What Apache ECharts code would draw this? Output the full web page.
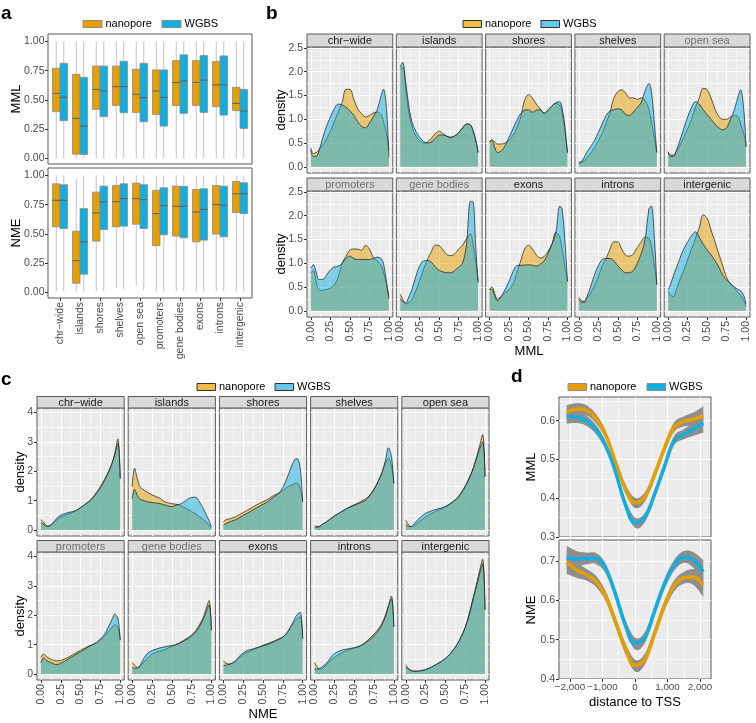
<!DOCTYPE html>
<html><head><meta charset="utf-8">
<script src="https://cdn.jsdelivr.net/npm/echarts@6/dist/echarts.min.js"></script>
<style>html,body{margin:0;padding:0;background:#fff}#c{width:756px;height:723px}</style>
</head><body><div id="c"></div>
<script>
const FONT = '"Liberation Sans", Arial, Helvetica, sans-serif';
const ORANGE = '#E69F00', BLUE = '#12AEDF';

// ---------- panel a : box plots ----------
const boxCategories = ['chr\u2212wide','islands','shores','shelves','open sea','promoters','gene bodies','exons','introns','intergenic'];
// [min, Q1, median, Q3, max]
const mmlBoxNano = [[0,0.40,0.557,0.771,1],[0,0.037,0.343,0.72,1],[0,0.42,0.59,0.79,1],[0,0.454,0.614,0.79,1],[0,0.394,0.549,0.763,1],[0,0.377,0.577,0.757,1],[0,0.454,0.649,0.837,1],[0,0.454,0.651,0.837,1],[0,0.443,0.629,0.829,1],[0,0.409,0.471,0.609,1]];
const mmlBoxWgbs = [[0,0.323,0.523,0.814,1],[0,0.034,0.277,0.694,1],[0,0.357,0.577,0.79,1],[0,0.391,0.614,0.831,1],[0,0.314,0.52,0.814,1],[0,0.277,0.523,0.757,1],[0,0.386,0.663,0.886,1],[0,0.394,0.67,0.88,1],[0,0.371,0.629,0.877,1],[0,0.257,0.406,0.591,1]];
const nmeBoxNano = [[0.01,0.561,0.788,0.929,1],[0.01,0.079,0.272,0.524,0.97],[0.01,0.439,0.68,0.858,1],[0.04,0.561,0.776,0.915,1],[0.06,0.584,0.802,0.935,1],[0.01,0.40,0.674,0.873,1],[0.01,0.482,0.737,0.909,1],[0.01,0.433,0.688,0.881,1],[0.01,0.499,0.751,0.915,1],[0.01,0.683,0.844,0.949,1]];
const nmeBoxWgbs = [[0.01,0.547,0.788,0.921,1],[0.01,0.156,0.433,0.717,1],[0.01,0.538,0.776,0.909,1],[0.03,0.567,0.802,0.929,1],[0.02,0.547,0.793,0.921,1],[0.01,0.493,0.742,0.895,1],[0.01,0.467,0.737,0.907,1],[0.01,0.448,0.711,0.887,1],[0.01,0.476,0.745,0.909,1],[0.01,0.674,0.844,0.938,1]];

// ---------- panels b, c : densities ----------
const facetNames = ['chr\u2212wide','islands','shores','shelves','open sea','promoters','gene bodies','exons','introns','intergenic'];
const densityX = [0,0.03,0.07,0.1,0.15,0.2,0.25,0.3,0.35,0.4,0.45,0.5,0.55,0.6,0.65,0.7,0.75,0.8,0.85,0.9,0.93,0.97,1];
const mmlDensNano = [
 [0.40,0.28,0.30,0.35,0.45,0.58,0.75,0.95,1.15,1.35,1.63,1.63,1.42,1.22,1.12,1.05,1.08,1.13,1.15,1.10,0.95,0.70,0.35],
 [2.05,2.10,1.65,1.25,0.85,0.65,0.55,0.50,0.52,0.60,0.70,0.75,0.70,0.64,0.62,0.65,0.72,0.82,0.90,0.88,0.78,0.55,0.30],
 [0.53,0.57,0.52,0.48,0.48,0.50,0.56,0.66,0.82,1.05,1.40,1.52,1.45,1.32,1.22,1.13,1.18,1.28,1.33,1.30,1.15,0.70,0.30],
 [0.10,0.10,0.13,0.18,0.28,0.40,0.55,0.70,0.92,1.15,1.45,1.58,1.62,1.55,1.45,1.45,1.42,1.45,1.40,1.20,0.95,0.60,0.30],
 [0.32,0.25,0.25,0.30,0.45,0.62,0.80,1.00,1.25,1.45,1.65,1.62,1.45,1.22,1.06,1.00,1.00,1.05,1.08,1.05,0.90,0.70,0.42],
 [0.80,0.85,0.60,0.45,0.43,0.45,0.48,0.55,0.70,1.00,1.15,1.28,1.30,1.30,1.27,1.38,1.30,1.12,1.05,0.95,0.82,0.55,0.30],
 [0.35,0.25,0.15,0.16,0.24,0.42,0.64,0.88,1.08,1.25,1.38,1.37,1.28,1.18,1.16,1.20,1.30,1.38,1.52,1.62,1.45,1.00,0.60],
 [0.45,0.50,0.35,0.25,0.30,0.38,0.45,0.55,0.80,1.05,1.30,1.38,1.30,1.18,1.11,1.14,1.25,1.40,1.65,1.55,1.30,0.90,0.62],
 [0.29,0.22,0.20,0.26,0.37,0.52,0.72,0.95,1.10,1.30,1.45,1.45,1.30,1.17,1.15,1.20,1.33,1.45,1.55,1.52,1.35,0.95,0.55],
 [0.42,0.33,0.30,0.42,0.65,0.85,1.07,1.30,1.52,1.75,2.02,1.95,1.70,1.46,1.20,0.95,0.70,0.57,0.48,0.38,0.32,0.22,0.10]
];
const mmlDensWgbs = [
 [0.35,0.22,0.22,0.32,0.60,0.85,1.05,1.22,1.32,1.30,1.25,1.18,1.08,0.95,0.85,0.82,0.92,1.05,1.20,1.50,1.63,1.20,0.20],
 [2.10,2.20,1.80,1.40,0.95,0.75,0.62,0.53,0.50,0.52,0.60,0.67,0.67,0.64,0.62,0.65,0.72,0.82,0.90,0.88,0.78,0.55,0.30],
 [0.53,0.55,0.40,0.30,0.33,0.45,0.62,0.80,0.98,1.12,1.19,1.20,1.15,1.19,1.20,1.12,1.20,1.28,1.35,1.37,1.25,0.80,0.30],
 [0.07,0.10,0.20,0.30,0.42,0.55,0.72,0.90,1.08,1.18,1.20,1.22,1.20,1.10,1.08,1.15,1.25,1.35,1.60,1.75,1.60,0.90,0.30],
 [0.30,0.22,0.22,0.32,0.55,0.80,1.05,1.25,1.37,1.32,1.20,1.10,1.00,0.90,0.82,0.78,0.82,1.00,1.20,1.50,1.62,1.20,0.42],
 [0.90,0.97,0.80,0.66,0.66,0.75,0.86,0.92,0.94,1.00,1.10,1.15,1.10,1.08,1.08,1.08,1.08,1.10,1.13,1.10,1.00,0.60,0.25],
 [0.26,0.20,0.17,0.25,0.45,0.72,0.95,1.05,1.06,1.02,0.92,0.85,0.82,0.80,0.80,0.85,0.92,1.00,1.40,2.30,2.30,1.30,0.60],
 [0.45,0.45,0.30,0.21,0.30,0.45,0.62,0.82,0.95,0.96,0.96,0.97,0.96,0.94,0.98,1.05,1.20,1.40,1.63,2.20,2.15,1.40,0.62],
 [0.25,0.18,0.18,0.28,0.50,0.75,0.95,1.08,1.10,1.10,1.05,0.95,0.86,0.80,0.80,0.85,1.00,1.20,1.50,2.15,2.20,1.50,0.55],
 [0.45,0.55,0.75,0.88,1.10,1.30,1.45,1.58,1.66,1.55,1.40,1.28,1.18,1.06,0.92,0.75,0.65,0.57,0.50,0.45,0.42,0.32,0.14]
];
const nmeDensNano = [
 [0.36,0.28,0.15,0.14,0.22,0.35,0.45,0.50,0.55,0.60,0.67,0.76,0.86,0.97,1.10,1.28,1.48,1.72,1.98,2.30,2.60,3.10,1.75],
 [1.47,2.10,1.70,1.47,1.36,1.27,1.20,1.14,1.08,0.98,0.93,0.90,0.88,0.84,0.78,0.70,0.63,0.55,0.45,0.35,0.28,0.17,0.06],
 [0.28,0.35,0.38,0.40,0.45,0.52,0.60,0.67,0.75,0.83,0.90,0.97,1.03,1.12,1.20,1.26,1.35,1.45,1.52,1.58,1.60,1.40,0.96],
 [0.15,0.12,0.14,0.20,0.28,0.38,0.48,0.56,0.63,0.70,0.80,0.86,0.92,1.00,1.07,1.20,1.40,1.65,1.95,2.30,2.45,2.20,1.58],
 [0.34,0.20,0.12,0.15,0.25,0.35,0.45,0.53,0.60,0.67,0.72,0.80,0.88,0.98,1.10,1.28,1.50,1.78,2.10,2.55,2.85,3.25,1.81],
 [0.57,0.68,0.60,0.54,0.48,0.45,0.47,0.52,0.58,0.66,0.74,0.81,0.88,0.95,1.00,1.07,1.16,1.27,1.45,1.60,1.68,1.60,1.17],
 [0.40,0.30,0.23,0.27,0.42,0.56,0.67,0.74,0.78,0.82,0.88,0.94,1.00,1.07,1.15,1.23,1.33,1.47,1.68,1.95,2.20,2.50,1.49],
 [0.46,0.38,0.34,0.36,0.42,0.55,0.66,0.74,0.80,0.86,0.92,0.98,1.03,1.08,1.13,1.20,1.26,1.38,1.60,1.78,1.88,1.95,1.20],
 [0.40,0.25,0.17,0.20,0.32,0.46,0.57,0.66,0.73,0.80,0.84,0.88,0.93,1.00,1.10,1.22,1.36,1.52,1.72,2.05,2.30,2.65,1.60],
 [0.32,0.20,0.12,0.10,0.10,0.12,0.15,0.20,0.27,0.34,0.42,0.52,0.65,0.82,1.02,1.28,1.60,2.05,2.60,3.15,3.50,3.90,2.18]
];
const nmeDensWgbs = [
 [0.25,0.20,0.13,0.14,0.25,0.40,0.51,0.56,0.60,0.63,0.68,0.77,0.86,0.96,1.08,1.25,1.44,1.68,1.95,2.30,2.55,2.95,1.75],
 [1.07,1.38,1.15,1.05,1.00,0.96,0.94,0.92,0.90,0.87,0.82,0.80,0.85,0.88,0.95,1.05,1.11,1.12,0.95,0.72,0.55,0.32,0.11],
 [0.17,0.22,0.27,0.30,0.35,0.42,0.50,0.57,0.65,0.73,0.80,0.88,0.95,1.05,1.15,1.25,1.45,1.75,2.10,2.40,2.43,2.10,0.96],
 [0.10,0.10,0.13,0.20,0.28,0.38,0.48,0.56,0.65,0.74,0.78,0.84,0.90,0.95,1.02,1.18,1.38,1.65,1.95,2.45,2.80,2.50,1.58],
 [0.17,0.14,0.12,0.20,0.35,0.47,0.57,0.63,0.68,0.72,0.75,0.80,0.87,0.97,1.08,1.25,1.48,1.75,2.08,2.50,2.75,3.00,1.81],
 [0.38,0.55,0.47,0.42,0.36,0.32,0.37,0.44,0.52,0.60,0.69,0.76,0.84,0.93,1.00,1.07,1.20,1.35,1.60,1.88,2.04,1.90,1.15],
 [0.23,0.20,0.20,0.30,0.55,0.72,0.80,0.85,0.89,0.92,0.95,0.97,1.00,1.05,1.12,1.20,1.30,1.43,1.62,1.88,2.10,2.35,1.49],
 [0.29,0.30,0.33,0.36,0.45,0.60,0.72,0.80,0.84,0.88,0.92,0.96,1.00,1.05,1.12,1.18,1.26,1.40,1.62,1.88,2.02,2.10,1.20],
 [0.17,0.17,0.20,0.26,0.37,0.55,0.70,0.77,0.82,0.85,0.87,0.90,0.93,0.99,1.07,1.18,1.30,1.46,1.68,2.00,2.30,2.55,1.60],
 [0.23,0.18,0.12,0.10,0.10,0.12,0.16,0.21,0.28,0.36,0.44,0.54,0.66,0.82,1.02,1.27,1.58,2.00,2.55,3.05,3.40,3.75,2.18]
];

// ---------- panel d : distance to TSS ----------
const tssX = [-2100,-1800,-1500,-1200,-900,-600,-300,0,300,600,900,1200,1500,1800,2100];
const tssMmlNano = [0.620,0.630,0.627,0.605,0.563,0.493,0.425,0.388,0.403,0.460,0.527,0.583,0.598,0.604,0.612];
const tssMmlWgbs = [0.612,0.609,0.600,0.577,0.535,0.468,0.385,0.337,0.350,0.410,0.480,0.548,0.565,0.578,0.594];
const tssNmeNano = [0.697,0.677,0.665,0.648,0.610,0.545,0.478,0.434,0.450,0.515,0.585,0.636,0.657,0.659,0.638];
const tssNmeWgbs = [0.708,0.705,0.706,0.706,0.680,0.615,0.538,0.490,0.505,0.572,0.640,0.688,0.710,0.702,0.672];
const tssMmlBand = [0.020,0.015,0.013,0.012,0.011,0.011,0.012,0.013,0.012,0.011,0.011,0.012,0.013,0.017,0.025];
const tssNmeBand = [0.030,0.020,0.015,0.014,0.013,0.013,0.014,0.015,0.014,0.013,0.013,0.014,0.015,0.020,0.030];

// ---------- build ----------
const TICK_COL = '#4D4D4D', AXIS_COL = '#333333', BORDER = '#595959';
const grids = [], xAxes = [], yAxes = [], series = [], graphics = [];
const addGrid = g => (grids.push(Object.assign({containLabel:false}, g)), grids.length - 1);

function makeAxes(kind, gi, min, max, major, minor, o) {
  const list = kind === 'x' ? xAxes : yAxes;
  const pos = kind === 'x' ? 'bottom' : 'left';
  list.push({
    gridIndex: gi, type: 'value', min, max, position: pos,
    axisLine: {show: false, onZero: false},
    axisTick: {show: !!o.ticks, customValues: major, length: 3, lineStyle: {color: AXIS_COL, width: 1}},
    axisLabel: {show: !!o.labels, customValues: major, formatter: o.fmt, fontFamily: FONT, fontSize: o.size || 10.5,
                color: TICK_COL, margin: o.margin || 4, rotate: o.rotate || 0, hideOverlap: false},
    splitLine: {show: !!o.grid, lineStyle: {color: '#FFFFFF', width: 1.1}},
    minorSplitLine: {show: false}
  });
  const idx = list.length - 1;
  if (minor) {
    list.push({
      gridIndex: gi, type: 'value', min, max, position: pos,
      axisLine: {show: false, onZero: false},
      axisTick: {show: false, customValues: minor},
      axisLabel: {show: false, customValues: minor},
      splitLine: {show: true, lineStyle: {color: '#FFFFFF', width: 0.55}}
    });
  }
  return idx;
}

function txt(x, y, text, o = {}) {
  graphics.push({type: 'text', x, y, rotation: o.rot || 0, silent: true, z: 100,
    style: {text, fill: o.color || '#000', fontFamily: FONT, fontSize: o.size || 11,
      fontWeight: o.weight || 'normal', align: o.align || 'left', verticalAlign: 'middle',
      textAlign: o.align || 'left', textVerticalAlign: 'middle'}});
}
function rect(x, y, w, h, fill, stroke, lw) {
  graphics.push({type: 'rect', silent: true, z: 100, shape: {x, y, width: w, height: h},
    style: {fill, stroke: stroke || null, lineWidth: lw || 0}});
}
function strip(x, y, w, h, name, gray) {
  rect(x, y, w, h, '#D9D9D9', BORDER, 1);
  txt(x + w / 2, y + h / 2 + 0.5, name, {align: 'center', color: gray ? '#707070' : '#1A1A1A', size: 11});
}

// panel a
function boxSeries(xi, yi, rows, color, offset) {
  return {
    type: 'custom', xAxisIndex: xi, yAxisIndex: yi, silent: true, z: 3,
    data: rows.map((r, i) => [i + 1].concat(r)),
    encode: {x: 0, y: [1, 2, 3, 4, 5]},
    renderItem(params, api) {
      const xc = api.value(0) + offset, w = 0.375;
      const p = v => api.coord([xc, v]);
      const lo = p(api.value(1)), q1 = p(api.value(2)), md = p(api.value(3)), q3 = p(api.value(4)), hi = p(api.value(5));
      const l = api.coord([xc - w / 2, 0])[0], r = api.coord([xc + w / 2, 0])[0];
      return {type: 'group', children: [
        {type: 'line', shape: {x1: lo[0], y1: lo[1], x2: hi[0], y2: hi[1]}, style: {stroke: '#C4C4C4', lineWidth: 1}},
        {type: 'rect', shape: {x: l, y: q3[1], width: r - l, height: q1[1] - q3[1]}, style: {fill: color, stroke: '#8C8C8C', lineWidth: 0.8}},
        {type: 'line', shape: {x1: l, y1: md[1], x2: r, y2: md[1]}, style: {stroke: '#5E5E5E', lineWidth: 1}}
      ]};
    }
  };
}
const catTicks = [1,2,3,4,5,6,7,8,9,10];
[[34, mmlBoxNano, mmlBoxWgbs, false], [168, nmeBoxNano, nmeBoxWgbs, true]].forEach(([top, nano, wgbs, bottom]) => {
  const gi = addGrid({left: 48, top, width: 204, height: 130, show: true, backgroundColor: '#FFFFFF', borderColor: BORDER, borderWidth: 1});
  const xi = makeAxes('x', gi, 0.4, 10.6, catTicks, null, {ticks: bottom, labels: bottom, rotate: 90, margin: 4,
    fmt: v => boxCategories[Math.round(v) - 1]});
  const yi = makeAxes('y', gi, -0.047, 1.064, [0, 0.25, 0.5, 0.75, 1], null, {ticks: true, labels: true, margin: 3.5, fmt: v => v.toFixed(2)});
  series.push(boxSeries(xi, yi, nano, ORANGE, -0.1875));
  series.push(boxSeries(xi, yi, wgbs, BLUE, 0.1875));
});
txt(16, 99, 'MML', {rot: Math.PI / 2, align: 'center', size: 13});
txt(16, 233, 'NME', {rot: Math.PI / 2, align: 'center', size: 13});

// density panels
function densSeries(xi, yi, vals, color, z) {
  return {type: 'line', xAxisIndex: xi, yAxisIndex: yi, silent: true, z,
    data: densityX.map((x, k) => [x, vals[k]]), smooth: 0.35, symbol: 'none',
    lineStyle: {color: '#1A1A1A', width: 0.7}, areaStyle: {color, opacity: 0.5}};
}
function facetPanel(cfg) {
  facetNames.forEach((name, i) => {
    const r = Math.floor(i / 5), c = i % 5;
    const left = cfg.left0 + c * cfg.pitch;
    const gi = addGrid({left, top: cfg.rows[r].top, width: cfg.w, height: cfg.h, show: true,
      backgroundColor: '#EBEBEB', borderColor: BORDER, borderWidth: 1});
    const xi = makeAxes('x', gi, -0.05, 1.05, [0, 0.25, 0.5, 0.75, 1], [0.125, 0.375, 0.625, 0.875],
      {ticks: r === 1, labels: r === 1, rotate: 90, margin: 4, fmt: v => v.toFixed(2), grid: true});
    const yi = makeAxes('y', gi, cfg.ymin, cfg.ymax, cfg.ymajor, cfg.yminor,
      {ticks: c === 0, labels: c === 0, fmt: cfg.yfmt, grid: true, margin: 4});
    series.push(densSeries(xi, yi, cfg.nano[i], ORANGE, 2));
    series.push(densSeries(xi, yi, cfg.wgbs[i], BLUE, 3));
    strip(left, cfg.rows[r].strip, cfg.w, cfg.rows[r].top - cfg.rows[r].strip, name, cfg.grayStrips.indexOf(name) >= 0);
  });
}
facetPanel({left0: 307, pitch: 89.3, w: 85.8, h: 126, rows: [{strip: 34, top: 47}, {strip: 178, top: 191}],
  ymin: -0.13, ymax: 2.52, ymajor: [0, 0.5, 1, 1.5, 2, 2.5], yminor: [0.25, 0.75, 1.25, 1.75, 2.25],
  yfmt: v => v.toFixed(1), nano: mmlDensNano, wgbs: mmlDensWgbs, grayStrips: ['open sea', 'promoters', 'gene bodies']});
facetPanel({left0: 37, pitch: 91.2, w: 87.2, h: 128, rows: [{strip: 396.5, top: 408}, {strip: 540.5, top: 552}],
  ymin: -0.2, ymax: 4.15, ymajor: [0, 1, 2, 3, 4], yminor: [0.5, 1.5, 2.5, 3.5],
  yfmt: v => String(v), nano: nmeDensNano, wgbs: nmeDensWgbs, grayStrips: ['promoters', 'gene bodies']});
txt(281, 110, 'density', {rot: Math.PI / 2, align: 'center', size: 13});
txt(281, 254, 'density', {rot: Math.PI / 2, align: 'center', size: 13});
txt(529, 351, 'MML', {align: 'center', size: 13});
txt(20, 472, 'density', {rot: Math.PI / 2, align: 'center', size: 13});
txt(20, 616, 'density', {rot: Math.PI / 2, align: 'center', size: 13});
txt(263, 714, 'NME', {align: 'center', size: 13});

// panel d
function catmull(pts, seg) {
  const out = [], n = pts.length;
  for (let i = 0; i < n - 1; i++) {
    const p0 = pts[Math.max(i - 1, 0)], p1 = pts[i], p2 = pts[i + 1], p3 = pts[Math.min(i + 2, n - 1)];
    for (let s = 0; s < seg; s++) {
      const t = s / seg, t2 = t * t, t3 = t2 * t;
      const f = d => 0.5 * (2 * p1[d] + (-p0[d] + p2[d]) * t + (2 * p0[d] - 5 * p1[d] + 4 * p2[d] - p3[d]) * t2 + (-p0[d] + 3 * p1[d] - 3 * p2[d] + p3[d]) * t3);
      out.push([f(0), f(1)]);
    }
  }
  out.push(pts[n - 1]);
  return out;
}
const fmtK = v => (v < 0 ? '\u2212' : '') + Math.abs(v).toLocaleString('en-US');
function tssPanel(top, height, ymin, ymax, ymajor, yminor, nano, wgbs, band, bottom) {
  const gi = addGrid({left: 559, top, width: 152, height, show: true, backgroundColor: '#EBEBEB', borderColor: BORDER, borderWidth: 1});
  const xi = makeAxes('x', gi, -2338, 2338, [-2000, -1000, 0, 1000, 2000], [-1500, -500, 500, 1500],
    {ticks: bottom, labels: bottom, fmt: fmtK, grid: true, margin: 3, size: 9.8});
  const yi = makeAxes('y', gi, ymin, ymax, ymajor, yminor, {ticks: true, labels: true, fmt: v => v.toFixed(1), grid: true, margin: 4});
  [nano, wgbs].forEach(vals => {
    series.push({type: 'custom', xAxisIndex: xi, yAxisIndex: yi, silent: true, z: 1,
      data: tssX.map((x, k) => [x, vals[k] - band[k], vals[k] + band[k]]),
      encode: {x: 0, y: [1, 2]},
      renderItem(params, api) {
        if (params.dataIndex !== 0) return null;
        const up = [], lo = [];
        for (let k = 0; k < tssX.length; k++) {
          up.push(api.coord([api.value(0, k), api.value(2, k)]));
          lo.push(api.coord([api.value(0, k), api.value(1, k)]));
        }
        const pts = catmull(up, 8).concat(catmull(lo, 8).reverse());
        return {type: 'polygon', shape: {points: pts}, style: {fill: '#8E8E8E'}};
      }});
  });
  [[nano, ORANGE], [wgbs, BLUE]].forEach(([vals, color]) => {
    series.push({type: 'line', xAxisIndex: xi, yAxisIndex: yi, silent: true, z: 4, smooth: 0.4, symbol: 'none',
      data: tssX.map((x, k) => [x, vals[k]]), lineStyle: {color, width: 3.5}});
  });
}
tssPanel(397, 140, 0.3, 0.661, [0.3, 0.4, 0.5, 0.6], [0.35, 0.45, 0.55, 0.65], tssMmlNano, tssMmlWgbs, tssMmlBand, false);
tssPanel(540, 139, 0.4, 0.753, [0.4, 0.5, 0.6, 0.7], [0.45, 0.55, 0.65, 0.75], tssNmeNano, tssNmeWgbs, tssNmeBand, true);
txt(531, 467, 'MML', {rot: Math.PI / 2, align: 'center', size: 13});
txt(531, 610, 'NME', {rot: Math.PI / 2, align: 'center', size: 13});
txt(635, 702, 'distance to TSS', {align: 'center', size: 13});

// panel letters
txt(1, 14, 'a', {size: 19, weight: 'bold'});
txt(266, 14, 'b', {size: 19, weight: 'bold'});
txt(1, 380, 'c', {size: 19, weight: 'bold'});
txt(511, 377, 'd', {size: 19, weight: 'bold'});

// legends
function legend(x1, x2, y, w, fillA, fillB, stroke) {
  rect(x1, y - 3.5, w, 7, fillA, stroke, 1);
  txt(x1 + w + 3.5, y, 'nanopore', {size: 11});
  rect(x2, y - 3.5, w, 7, fillB, stroke, 1);
  txt(x2 + w + 3.5, y, 'WGBS', {size: 11});
}
legend(83, 162, 24, 19, ORANGE, BLUE, '#8C8C8C');
legend(463, 541, 24, 18.5, 'rgba(230,159,0,0.7)', 'rgba(18,174,223,0.65)', '#333');
legend(197, 275, 387, 18.5, 'rgba(230,159,0,0.7)', 'rgba(18,174,223,0.65)', '#333');
legend(568, 647, 387, 18.5, ORANGE, BLUE, '#8E8E8E');

const chart = echarts.init(document.getElementById('c'), null, {renderer: 'canvas', width: 756, height: 723});
chart.setOption({
  animation: false,
  backgroundColor: '#FFFFFF',
  textStyle: {fontFamily: FONT},
  grid: grids, xAxis: xAxes, yAxis: yAxes, series, graphic: graphics
});
</script>
</body></html>
